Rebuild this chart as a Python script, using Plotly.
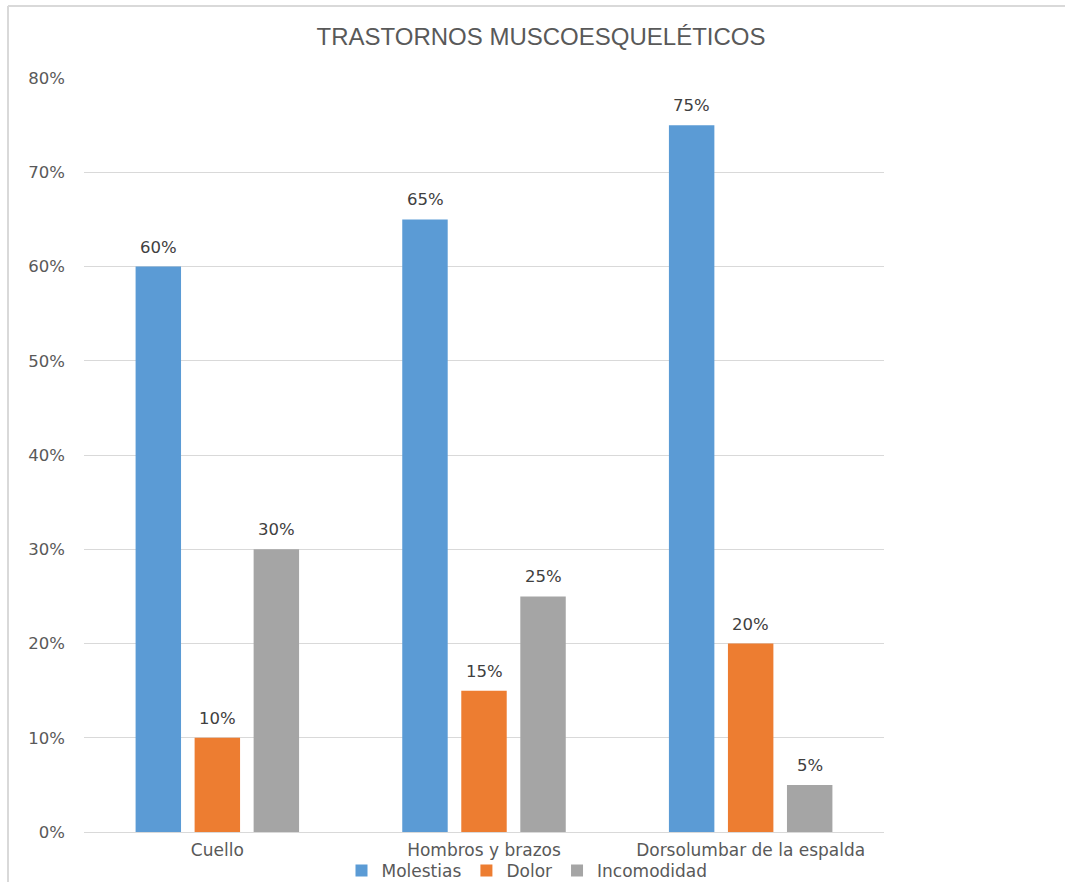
import plotly.graph_objects as go

categories = ["Cuello", "Hombros y brazos", "Dorsolumbar de la espalda"]
molestias = [0.60, 0.65, 0.75]
dolor = [0.10, 0.15, 0.20]
incomodidad = [0.30, 0.25, 0.05]
series = [("Molestias", molestias, "#5b9bd5"),
          ("Dolor", dolor, "#ed7d31"),
          ("Incomodidad", incomodidad, "#a5a5a5")]
tick_vals = [0, 0.1, 0.2, 0.3, 0.4, 0.5, 0.6, 0.7, 0.8]

FONT = "DejaVu Sans, Verdana, sans-serif"

fig = go.Figure()
for name, vals, color in series:
    fig.add_trace(go.Bar(
        x=categories, y=vals, name=name, marker_color=color,
        marker_line_width=0,
    ))

# value labels above each bar, offset to the bar's slot within the group
slot_px = 59
for i, (name, vals, color) in enumerate(series):
    for cat, v in zip(categories, vals):
        fig.add_annotation(
            x=cat, y=v, xref="x", yref="y", text=f"{v:.0%}",
            showarrow=False, xanchor="center", yanchor="bottom",
            xshift=(i - 1) * slot_px, yshift=8,
            font=dict(family=FONT, size=16.5, color="#404040"),
        )

# plot area in pixels: x 84..884, y 78..832
def px_x(px):
    return (px - 84) / 800

def px_y(py):
    return (832 - py) / 754

fig.update_layout(
    width=1065, height=882,
    margin=dict(l=84, r=181, t=78, b=50, autoexpand=False),
    paper_bgcolor="white", plot_bgcolor="white",
    barmode="group", bargap=0.336, bargroupgap=0.23,
    title=dict(text="TRASTORNOS MUSCOESQUELÉTICOS",
               x=541 / 1065, xanchor="center", y=1 - 37 / 882, yanchor="middle",
               font=dict(family="Liberation Sans, Arial, sans-serif",
                         size=24, color="#595959")),
    showlegend=True,
    legend=dict(orientation="h", xref="container", x=527 / 1065, xanchor="center",
                yref="container", y=1 - 871 / 882, yanchor="middle",
                font=dict(family=FONT, size=17, color="#595959"),
                traceorder="normal", bgcolor="rgba(0,0,0,0)"),
    xaxis=dict(showgrid=False, showline=True, linecolor="#d9d9d9", linewidth=1,
               ticks="", automargin=False, ticklabelstandoff=3,
               tickfont=dict(family=FONT, size=17, color="#595959")),
    yaxis=dict(range=[0, 0.8], tickvals=tick_vals, tickformat=".0%",
               showgrid=True, gridcolor="#d9d9d9", gridwidth=1,
               zeroline=False, showline=False, ticks="", ticklen=0,
               automargin=False, ticklabelstandoff=18,
               tickfont=dict(family=FONT, size=16.5, color="#595959")),
    font=dict(family=FONT),
)

# chart frame edges
fig.add_shape(type="line", xref="paper", yref="paper",
              x0=px_x(8), x1=px_x(8), y0=px_y(6), y1=px_y(882),
              line=dict(color="#d9d9d9", width=2))
fig.add_shape(type="line", xref="paper", yref="paper",
              x0=px_x(8), x1=px_x(1065), y0=px_y(6), y1=px_y(6),
              line=dict(color="#d9d9d9", width=2))

fig.write_html("out.html")
